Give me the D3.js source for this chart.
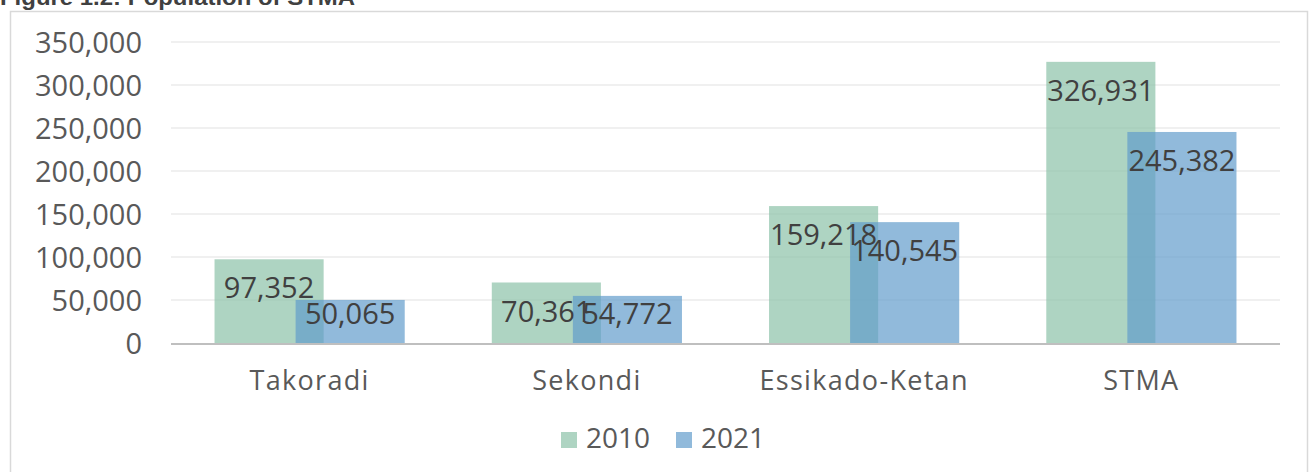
<!DOCTYPE html>
<html>
<head>
<meta charset="utf-8">
<script src="https://cdn.jsdelivr.net/npm/d3@7"></script>
<style>
  body { margin: 0; background: #fff; }
  svg { display: block; }
</style>
</head>
<body>
<svg id="chart" width="1310" height="472"></svg>
<script>
const categories = ["Takoradi", "Sekondi", "Essikado-Ketan", "STMA"];
const seriesNames = ["2010", "2021"];
const values2010 = [97352, 70361, 159218, 326931];
const values2021 = [50065, 54772, 140545, 245382];
const yTicks = [0, 50000, 100000, 150000, 200000, 250000, 300000, 350000];
const colors = ["rgb(138,193,167)", "rgb(96,155,203)"];

const svg = d3.select("#chart");
const font = "'Open Sans', sans-serif";

// title, cut off at the top like in the source
svg.append("text")
    .attr("x", 0)
    .attr("y", 5)
    .attr("font-family", "'Liberation Sans', Arial, sans-serif")
    .attr("font-weight", "bold")
    .attr("font-size", 22)
    .attr("fill", "#404040")
    .attr("textLength", 355)
    .attr("lengthAdjust", "spacingAndGlyphs")
    .text("Figure 1.2: Population of STMA");

// outer frame
svg.append("rect")
    .attr("x", 10.5)
    .attr("y", 11.5)
    .attr("width", 1297)
    .attr("height", 480)
    .attr("fill", "none")
    .attr("stroke", "#d9d9d9")
    .attr("stroke-width", 1.5);

const x = d3.scaleBand()
    .domain(categories)
    .range([171, 1280])
    .paddingInner(0.314)
    .paddingOuter(0.157);

const y = d3.scaleLinear()
    .domain([0, 350000])
    .range([343, 42]);

const barW = x.bandwidth() * 109 / 190;
const shift = x.bandwidth() - barW;

// gridlines
svg.append("g")
    .selectAll("line")
    .data(yTicks.slice(1))
    .enter()
    .append("line")
    .attr("x1", 171)
    .attr("x2", 1280)
    .attr("y1", d => y(d))
    .attr("y2", d => y(d))
    .attr("stroke", "#f0f0f0")
    .attr("stroke-width", 2);

// y axis labels
const yAxis = svg.append("g")
    .attr("transform", "translate(171,0)")
    .call(d3.axisLeft(y).tickValues(yTicks).tickFormat(d3.format(",")).tickSize(0).tickPadding(29));
yAxis.select(".domain").remove();
yAxis.selectAll("text")
    .attr("font-family", font)
    .attr("font-size", 29)
    .attr("fill", "#595959")
    .attr("dy", "0.35em");

const series = [values2010, values2021];
const rows = [];
series.forEach((vals, si) => {
    vals.forEach((v, ci) => rows.push({cat: categories[ci], v: v, si: si}));
});

// bars
svg.append("g")
    .selectAll("rect")
    .data(rows)
    .enter()
    .append("rect")
    .attr("x", d => x(d.cat) + d.si * shift)
    .attr("y", d => y(d.v))
    .attr("width", barW)
    .attr("height", d => y(0) - y(d.v))
    .attr("fill", d => colors[d.si])
    .attr("fill-opacity", 0.69);

// x axis line
svg.append("line")
    .attr("x1", 171)
    .attr("x2", 1280)
    .attr("y1", y(0) + 1)
    .attr("y2", y(0) + 1)
    .attr("stroke", "#bfbfbf")
    .attr("stroke-width", 2);

// data labels, inside end (kept above the axis for short bars)
svg.append("g")
    .selectAll("text")
    .data(rows)
    .enter()
    .append("text")
    .attr("x", d => x(d.cat) + d.si * shift + barW / 2)
    .attr("y", d => Math.min(y(d.v) + 29, y(0) - 29))
    .attr("dy", "0.35em")
    .attr("text-anchor", "middle")
    .attr("font-family", font)
    .attr("font-size", 29)
    .attr("fill", "#404040")
    .text(d => d3.format(",")(d.v));

// category labels
svg.append("g")
    .selectAll("text")
    .data(categories)
    .enter()
    .append("text")
    .attr("x", d => x(d) + x.bandwidth() / 2)
    .attr("y", 390)
    .attr("text-anchor", "middle")
    .attr("font-family", font)
    .attr("font-size", 27)
    .attr("letter-spacing", 1.3)
    .attr("fill", "#595959")
    .text(d => d);

// legend
const legend = svg.append("g").attr("id", "legend");
const legendX = [561, 676];
seriesNames.forEach((name, i) => {
    legend.append("rect")
        .attr("x", legendX[i])
        .attr("y", 432)
        .attr("width", 16)
        .attr("height", 16)
        .attr("fill", colors[i])
        .attr("fill-opacity", 0.69);
    legend.append("text")
        .attr("x", legendX[i] + 25)
        .attr("y", 448)
        .attr("font-family", font)
        .attr("font-size", 28)
        .attr("fill", "#595959")
        .text(name);
});
</script>
</body>
</html>
